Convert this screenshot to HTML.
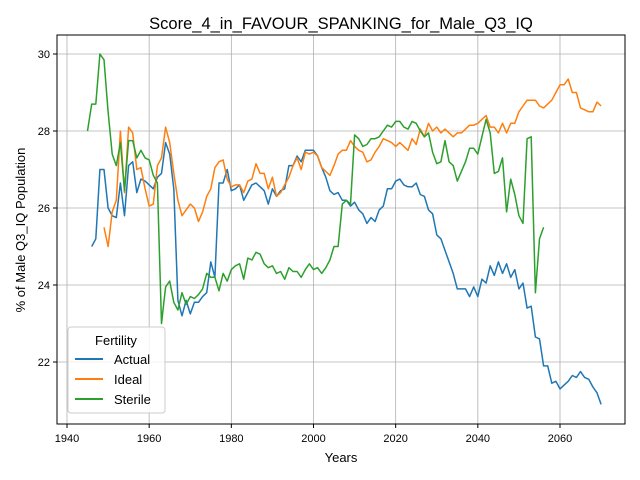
<!DOCTYPE html>
<html><head><meta charset="utf-8"><style>
body{margin:0;background:#fff;}
svg{display:block;font-family:"Liberation Sans","DejaVu Sans",sans-serif;}
</style></head><body>
<svg id="c" width="640" height="480" xmlns="http://www.w3.org/2000/svg">
<rect width="640" height="480" fill="#fff"/>
<text x="341" y="29" font-size="16.5" text-anchor="middle">Score_4_in_FAVOUR_SPANKING_for_Male_Q3_IQ</text>
<text x="341" y="462" font-size="13" text-anchor="middle">Years</text>
<text transform="translate(25,230) rotate(-90)" font-size="13" text-anchor="middle">% of Male Q3_IQ Population</text>
<g id="grid"></g><g id="ticks"></g><g id="lines"></g>
<rect x="57" y="35" width="568" height="389" fill="none" stroke="#000" stroke-width="1"/>
<g>
<rect x="68" y="327" width="97" height="86" rx="3" fill="#fff" fill-opacity="0.8" stroke="#ccc"/>
<text x="116" y="345" font-size="13" text-anchor="middle">Fertility</text>
<g><line x1="75" x2="103" y1="359" y2="359" stroke="#1f77b4" stroke-width="2"/><text x="114" y="364" font-size="13">Actual</text></g>
<g><line x1="75" x2="103" y1="379" y2="379" stroke="#ff7f0e" stroke-width="2"/><text x="114" y="384" font-size="13">Ideal</text></g>
<g><line x1="75" x2="103" y1="399" y2="399" stroke="#2ca02c" stroke-width="2"/><text x="114" y="404" font-size="13">Sterile</text></g>
</g>
</svg>
<script>
const xTicks=[1940,1960,1980,2000,2020,2040,2060];
const yTicks=[22,24,26,28,30];
const actualStart=1946;
const actualValues=[25.0,25.2,27.0,27.0,26.0,25.8,25.75,26.65,25.8,27.1,27.2,26.4,26.75,26.7,26.6,26.5,26.8,26.9,27.7,27.4,26.5,23.6,23.2,23.6,23.25,23.55,23.55,23.7,23.8,24.6,24.2,26.65,26.65,27.0,26.45,26.5,26.6,26.2,26.4,26.6,26.65,26.55,26.45,26.1,26.5,26.3,26.45,26.5,27.1,27.1,27.35,27.2,27.5,27.5,27.5,27.35,27.05,26.8,26.45,26.35,26.4,26.2,26.2,26.05,26.15,25.95,25.85,25.6,25.75,25.65,25.95,26.05,26.5,26.5,26.7,26.75,26.6,26.55,26.55,26.65,26.35,26.3,25.95,25.85,25.3,25.2,24.9,24.6,24.3,23.9,23.9,23.9,23.7,23.95,23.7,24.15,24.05,24.5,24.25,24.6,24.3,24.55,24.2,24.4,23.9,24.05,23.4,23.45,22.65,22.6,21.9,21.9,21.45,21.5,21.3,21.4,21.5,21.65,21.6,21.75,21.6,21.55,21.35,21.2,20.9];
const idealStart=1949;
const idealValues=[25.5,25.0,25.9,26.2,28.0,26.4,28.1,27.95,27.0,27.05,26.5,26.05,26.1,27.1,27.3,28.1,27.7,26.9,26.2,25.8,25.95,26.1,26.0,25.65,25.9,26.3,26.5,27.05,27.2,27.25,26.75,26.55,26.6,26.6,26.4,26.7,26.75,27.15,26.9,26.9,26.5,26.8,26.3,26.4,26.6,26.8,27.1,27.3,27.0,27.45,27.4,27.45,27.35,27.05,26.95,26.85,27.1,27.4,27.5,27.5,27.75,27.6,27.5,27.45,27.2,27.25,27.45,27.6,27.8,27.75,27.7,27.6,27.7,27.6,27.5,27.8,27.65,28.05,27.85,28.2,28.0,28.1,27.95,28.05,27.95,27.85,27.95,27.95,28.05,28.15,28.15,28.2,28.3,28.4,28.1,28.1,27.95,28.2,27.95,28.2,28.2,28.5,28.65,28.8,28.8,28.8,28.65,28.6,28.7,28.8,29.0,29.2,29.2,29.35,29.0,29.0,28.6,28.55,28.5,28.5,28.75,28.65];
const sterileStart=1945;
const sterileValues=[28.0,28.7,28.7,30.0,29.85,28.5,27.4,27.1,27.7,26.45,27.75,27.75,27.3,27.5,27.3,27.25,26.85,26.65,23.0,23.95,24.1,23.55,23.35,23.8,23.5,23.7,23.65,23.75,23.9,24.3,24.2,24.2,23.85,24.3,24.1,24.4,24.5,24.55,24.15,24.7,24.65,24.85,24.8,24.55,24.45,24.5,24.3,24.35,24.15,24.45,24.35,24.35,24.2,24.4,24.55,24.4,24.45,24.3,24.45,24.65,25.0,25.0,26.1,26.2,26.1,27.9,27.8,27.6,27.65,27.8,27.8,27.85,28.0,28.15,28.1,28.25,28.25,28.1,28.05,28.25,28.2,28.0,27.85,27.95,27.45,27.15,27.2,27.75,27.2,27.1,26.7,26.95,27.2,27.55,27.55,27.4,27.85,28.3,27.95,26.9,26.95,27.3,25.9,26.75,26.35,25.8,25.6,27.8,27.85,23.8,25.2,25.5];

const NS="http://www.w3.org/2000/svg";
const L=57,R=625,T=35,B=424;
function xs(yr){return 67+(yr-1940)*(560-67)/120;}
function ys(v){return 54+(30-v)*(362-54)/8;}
const grid=document.getElementById('grid'),ticks=document.getElementById('ticks'),lines=document.getElementById('lines');
function mk(tag,attrs,parent){const e=document.createElementNS(NS,tag);for(const k in attrs)e.setAttribute(k,attrs[k]);parent.appendChild(e);return e;}
xTicks.forEach(t=>{const x=xs(t);
 const g=mk('line',{x1:x,x2:x,y1:T,y2:B,stroke:'#b0b0b0','stroke-width':0.8},grid);
 
 
 mk('line',{x1:x,x2:x,y1:B,y2:B+4,stroke:'#000'},ticks);
 const tx=mk('text',{x:x,y:B+18,'font-size':11,'text-anchor':'middle'},ticks);tx.textContent=t;
 
 
});
yTicks.forEach(t=>{const y=ys(t);
 const g=mk('line',{x1:L,x2:R,y1:y,y2:y,stroke:'#b0b0b0','stroke-width':0.8},grid);
 
 
 mk('line',{x1:L-4,x2:L,y1:y,y2:y,stroke:'#000'},ticks);
 const tx=mk('text',{x:L-7,y:y+4,'font-size':11,'text-anchor':'end'},ticks);tx.textContent=t;
 
 
});
function series(start,vals,color,name){
 const pts=vals.map((v,i)=>xs(start+i).toFixed(1)+','+ys(v).toFixed(1)).join(' ');
 const p=mk('polyline',{points:pts,fill:'none',stroke:color,'stroke-width':1.5,'stroke-linejoin':'round'},lines);
 
 
}
series(actualStart,actualValues,'#1f77b4','actual-line');
series(idealStart,idealValues,'#ff7f0e','ideal-line');
series(sterileStart,sterileValues,'#2ca02c','sterile-line');
</script>
</body></html>
